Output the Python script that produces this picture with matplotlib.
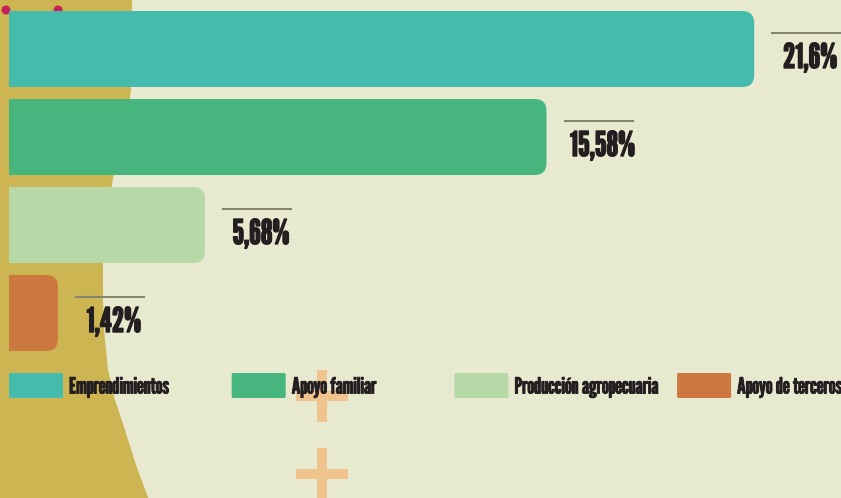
import numpy as np
import matplotlib
matplotlib.use("Agg")
import matplotlib.pyplot as plt
import matplotlib.patheffects as pe
from matplotlib.patches import FancyBboxPatch, Rectangle, Circle, Polygon

categories = ["Emprendimientos", "Apoyo familiar", "Producción agropecuaria", "Apoyo de terceros"]
values = [21.6, 15.58, 5.68, 1.42]
value_labels = ["21,6%", "15,58%", "5,68%", "1,42%"]
colors = ["#44BBAD", "#47B57E", "#B7D9A7", "#CD7840"]

FONT = ["League Gothic", "DejaVu Sans"]
TXT = "#231F20"

W, H = 841, 498
fig = plt.figure(figsize=(W / 100, H / 100), dpi=100)
fig.patch.set_facecolor("#E8EAD0")

bg = fig.add_axes([0, 0, 1, 1])
bg.set_xlim(0, W)
bg.set_ylim(H, 0)
bg.axis("off")

# decorative yellow side shape
pts = [(132, -2), (132, 0), (131, 90), (124, 140), (113, 178), (106, 220), (103, 263),
       (103, 300), (104, 330), (108, 370), (115, 400), (125, 430), (136, 465), (149, 500)]
poly = [(-2, -2)] + pts + [(-2, 500)]
bg.add_patch(Polygon(poly, closed=True, facecolor="#CDB552", edgecolor="none"))
for cx in (6, 58):
    bg.add_patch(Circle((cx, 10), 4.5, facecolor="#C8215A", edgecolor="none"))
for cy in (396, 474):
    bg.add_patch(Rectangle((316.7, cy - 26), 10, 52, facecolor="#F2C48D", edgecolor="none"))
    bg.add_patch(Rectangle((295.7, cy - 5), 52, 10, facecolor="#F2C48D", edgecolor="none"))

# legend
for i, (cat, col) in enumerate(zip(categories, colors)):
    x0 = 9 + 222.7 * i
    bg.add_patch(FancyBboxPatch((x0, 373), 54, 25, boxstyle="round,pad=0,rounding_size=1.5",
                                facecolor=col, edgecolor="none"))
    bg.text(x0 + 60, 393.5, cat, fontsize=16, family=FONT,
            color=TXT, ha="left", va="baseline",
            path_effects=[pe.withStroke(linewidth=0.6, foreground=TXT)])

# main bars
PX = 34.5   # px per unit x
PY = 88.0   # px per category
ax = fig.add_axes([0, 0, 1, 1])
ax.set_facecolor("none")
ax.set_xlim(-9 / PX, (W - 9) / PX)
ax.set_ylim((H - 49) / PY, -49 / PY)
ax.axis("off")

h = 76 / PY
r = 12 / PX
asp = PX / PY
y = np.arange(len(values))
ax.barh(y, [v / 2 for v in values], height=h, color=colors, linewidth=0)
for yi, v, col, lab in zip(y, values, colors, value_labels):
    ax.add_patch(FancyBboxPatch((0, yi - h / 2), v, h,
                                boxstyle=f"round,pad=0,rounding_size={r}",
                                mutation_aspect=asp, facecolor=col, edgecolor="none"))
    ly = yi - h / 2 + 22 / PY
    ax.plot([v + 17 / PX, v + 87 / PX], [ly, ly], color="#85856F", lw=1.5,
            solid_capstyle="butt")
    ax.text(v + 56 / PX, yi - h / 2 + 57 / PY, lab, fontsize=24.5,
            family=FONT, color=TXT, ha="center", va="baseline",
            path_effects=[pe.withStroke(linewidth=1.0, foreground=TXT)])

fig.savefig("out.png", dpi=100, facecolor=fig.get_facecolor())
